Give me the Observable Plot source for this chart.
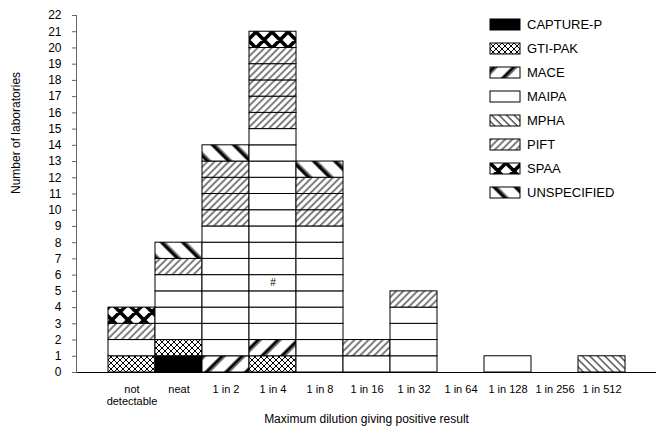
<!DOCTYPE html>
<html>
<head>
<meta charset="utf-8">
<script src="https://cdn.jsdelivr.net/npm/d3@7"></script>
<script src="https://cdn.jsdelivr.net/npm/@observablehq/plot@0.6"></script>
<style>
  html, body { margin: 0; padding: 0; background: #fff; }
  #chart { position: relative; width: 658px; height: 440px; overflow: hidden; }
  .lg-swatches { position: absolute; left: 490px; top: 13px; width: 165px;
    font-family: "Liberation Sans", Arial, sans-serif; font-size: 13px; color: #000; margin: 0; }
  .lg-swatch { height: 23.9px; padding-bottom: 0 !important; }
  .lg-swatch > svg { margin-right: 7px; overflow: visible; }
  .lg-swatch svg rect { stroke: #000; stroke-width: 1px; }
</style>
</head>
<body>
<svg width="0" height="0" style="position:absolute">
  <defs>
    <pattern id="pGti" patternUnits="userSpaceOnUse" width="6" height="6">
      <rect width="6" height="6" fill="#fff"/>
      <path d="M0,0L6,6M6,0L0,6" stroke="#000" stroke-width="1"/>
    </pattern>
    <pattern id="pMace" patternUnits="userSpaceOnUse" width="14" height="14" patternTransform="rotate(45)">
      <rect width="14" height="14" fill="#fff"/>
      <line x1="3" y1="0" x2="3" y2="14" stroke="#000" stroke-width="3.2"/>
      <line x1="5.5" y1="0" x2="5.5" y2="14" stroke="#777" stroke-width="1"/>
    </pattern>
    <pattern id="pMpha" patternUnits="userSpaceOnUse" width="5.3" height="5.3" patternTransform="rotate(-45)">
      <rect width="5.3" height="5.3" fill="#fff"/>
      <line x1="1" y1="0" x2="1" y2="5.3" stroke="#000" stroke-width="1"/>
    </pattern>
    <pattern id="pPift" patternUnits="userSpaceOnUse" width="5" height="5" patternTransform="rotate(45)">
      <rect width="5" height="5" fill="#fff"/>
      <line x1="1" y1="0" x2="1" y2="5" stroke="#000" stroke-width="1"/>
    </pattern>
    <pattern id="pSpaa" patternUnits="userSpaceOnUse" width="16" height="16">
      <rect width="16" height="16" fill="#fff"/>
      <path d="M0,0L16,16M16,0L0,16M-8,8L0,0M8,-8L0,0M16,16L24,8M16,16L8,24M0,16L-8,8M16,0L24,8" stroke="#000" stroke-width="3.6"/>
    </pattern>
    <pattern id="pUnsp" patternUnits="userSpaceOnUse" width="15" height="15" patternTransform="rotate(-45)">
      <rect width="15" height="15" fill="#fff"/>
      <line x1="3" y1="0" x2="3" y2="15" stroke="#000" stroke-width="3.4"/>
      <line x1="5.6" y1="0" x2="5.6" y2="15" stroke="#777" stroke-width="1"/>
    </pattern>
  </defs>
</svg>
<div id="chart"></div>
<script>
// ---- data ----
const categories = ["not detectable", "neat", "1 in 2", "1 in 4", "1 in 8", "1 in 16", "1 in 32", "1 in 64", "1 in 128", "1 in 256", "1 in 512"];
const methods = ["CAPTURE-P", "GTI-PAK", "MACE", "MAIPA", "MPHA", "PIFT", "SPAA", "UNSPECIFIED"];
const capture = [0, 1, 0, 0, 0, 0, 0, 0, 0, 0, 0];
const gtiPak  = [1, 1, 0, 1, 0, 0, 0, 0, 0, 0, 0];
const mace    = [0, 0, 1, 1, 0, 0, 0, 0, 0, 0, 0];
const maipa   = [1, 4, 8, 13, 9, 1, 4, 0, 1, 0, 0];
const mpha    = [0, 0, 0, 0, 0, 0, 0, 0, 0, 0, 1];
const pift    = [1, 1, 4, 5, 3, 1, 1, 0, 0, 0, 0];
const spaa    = [1, 0, 0, 1, 0, 0, 0, 0, 0, 0, 0];
const unspec  = [0, 1, 1, 0, 1, 0, 0, 0, 0, 0, 0];
const yTicks = d3.range(0, 23);
const noteCategories = ["1 in 4", "1 in 8"];
const noteValues = [5.5, 12.5];
const noteLabels = ["#", "*"];
const xTitle = "Maximum dilution giving positive result";
const yTitle = "Number of laboratories";

// ---- build tables ----
const seriesByMethod = [capture, gtiPak, mace, maipa, mpha, pift, spaa, unspec];
const fills = ["#000", "url(#pGti)", "url(#pMace)", "#fff", "url(#pMpha)", "url(#pPift)", "url(#pSpaa)", "url(#pUnsp)"];
const units = [];
categories.forEach((c, ci) => {
  methods.forEach((m, mi) => {
    for (let k = 0; k < seriesByMethod[mi][ci]; k++) units.push({category: c, method: m, n: 1});
  });
});
const notes = noteCategories.map((c, i) => ({category: c, y: noteValues[i], label: noteLabels[i]}));

const font = "'Liberation Sans', Arial, sans-serif";
const chart = Plot.plot({
  width: 658,
  height: 440,
  marginTop: 15,
  marginBottom: 68,
  marginLeft: 76,
  marginRight: 2,
  style: {fontFamily: font, fontSize: "11px", color: "#000", background: "#fff", overflow: "visible"},
  x: {domain: categories, range: [104, 628.6], padding: 0},
  y: {domain: [0, 22]},
  color: {domain: methods, range: fills},
  marks: [
    Plot.barY(units, {x: "category", y: "n", fill: "method", stroke: "#000", strokeWidth: 1}),
    Plot.text(notes, {x: "category", y: "y", text: "label", fontSize: 10, fill: "#000"}),
    Plot.ruleY([0], {stroke: "#000", strokeWidth: 1}),
    Plot.frame({anchor: "left", stroke: "#666", strokeWidth: 1}),
    Plot.axisY({ticks: yTicks, tickSize: 4, tickPadding: 11, label: null, fontSize: 12, stroke: "#666"}),
    Plot.axisX({tickSize: 0, tickPadding: 12, label: null, fontSize: 11, lineHeight: 1.1,
      tickFormat: d => d === "not detectable" ? "not\ndetectable" : d}),
    Plot.text([xTitle], {frameAnchor: "bottom", dy: 50, fontSize: 12}),
    Plot.text([yTitle], {frameAnchor: "left", dx: -60, rotate: -90, fontSize: 12})
  ]
});
const root = document.getElementById("chart");
root.appendChild(chart);

const legend = Plot.legend({
  color: {domain: methods, range: fills},
  legend: "swatches",
  columns: 1,
  swatchWidth: 30,
  swatchHeight: 11,
  className: "lg"
});
root.appendChild(legend);
</script>
</body>
</html>
